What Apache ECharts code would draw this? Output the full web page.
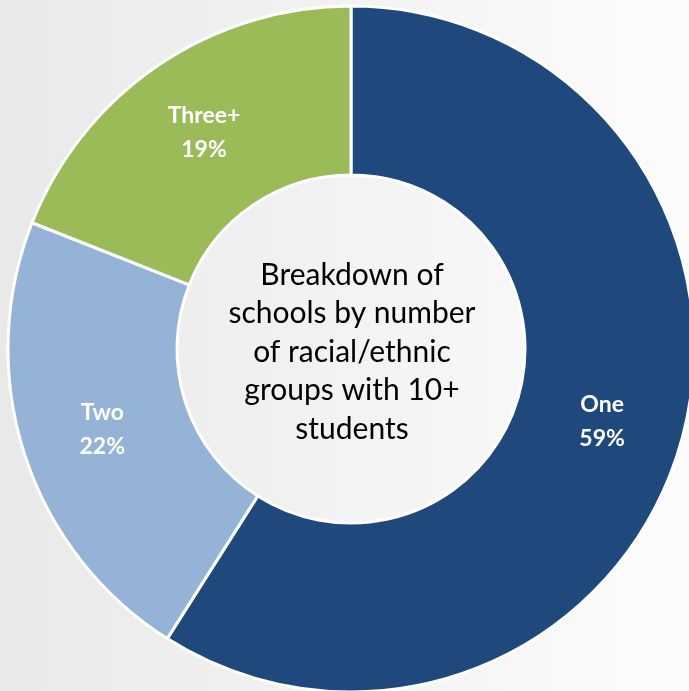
<!DOCTYPE html>
<html>
<head>
<meta charset="utf-8">
<script src="https://cdn.jsdelivr.net/npm/echarts@6/dist/echarts.min.js"></script>
<style>
  html, body { margin: 0; padding: 0; }
  #chart { width: 689px; height: 691px; }
</style>
</head>
<body>
<div id="chart"></div>
<script>
const categories = ['One', 'Two', 'Three+']
const values = [59, 22, 19]
const colors = ['#1F497D', '#95B3D7', '#9BBB59']
const centerText = 'Breakdown of\nschools by number\nof racial/ethnic\ngroups with 10+\nstudents'

const chart = echarts.init(document.getElementById('chart'))

const option = {
  backgroundColor: {
    type: 'linear', x: 0, y: 0, x2: 1, y2: 0,
    colorStops: [
      { offset: 0, color: '#E9E9E9' },
      { offset: 1, color: '#FCFCFC' }
    ]
  },
  animation: false,
  series: [{
    type: 'pie',
    center: [351, 349],
    radius: [174, 343],
    startAngle: 90,
    clockwise: true,
    avoidLabelOverlap: false,
    itemStyle: {
      borderColor: '#FFFFFF',
      borderWidth: 3
    },
    label: {
      position: 'inside',
      formatter: p => p.name + '\n' + p.value + '%',
      color: '#FFFFFF',
      fontFamily: 'Lato',
      fontWeight: 'bold',
      fontSize: 23,
      lineHeight: 34
    },
    labelLine: { show: false },
    emphasis: { disabled: true },
    data: categories.map((name, i) => ({
      name,
      value: values[i],
      itemStyle: { color: colors[i] }
    }))
  }],
  graphic: [{
    type: 'text',
    x: 352,
    y: 352,
    style: {
      text: centerText,
      align: 'center',
      verticalAlign: 'middle',
      fill: '#000000',
      fontFamily: 'Lato',
      fontSize: 30,
      lineHeight: 38.5
    }
  }]
}

chart.setOption(option)
</script>
</body>
</html>
